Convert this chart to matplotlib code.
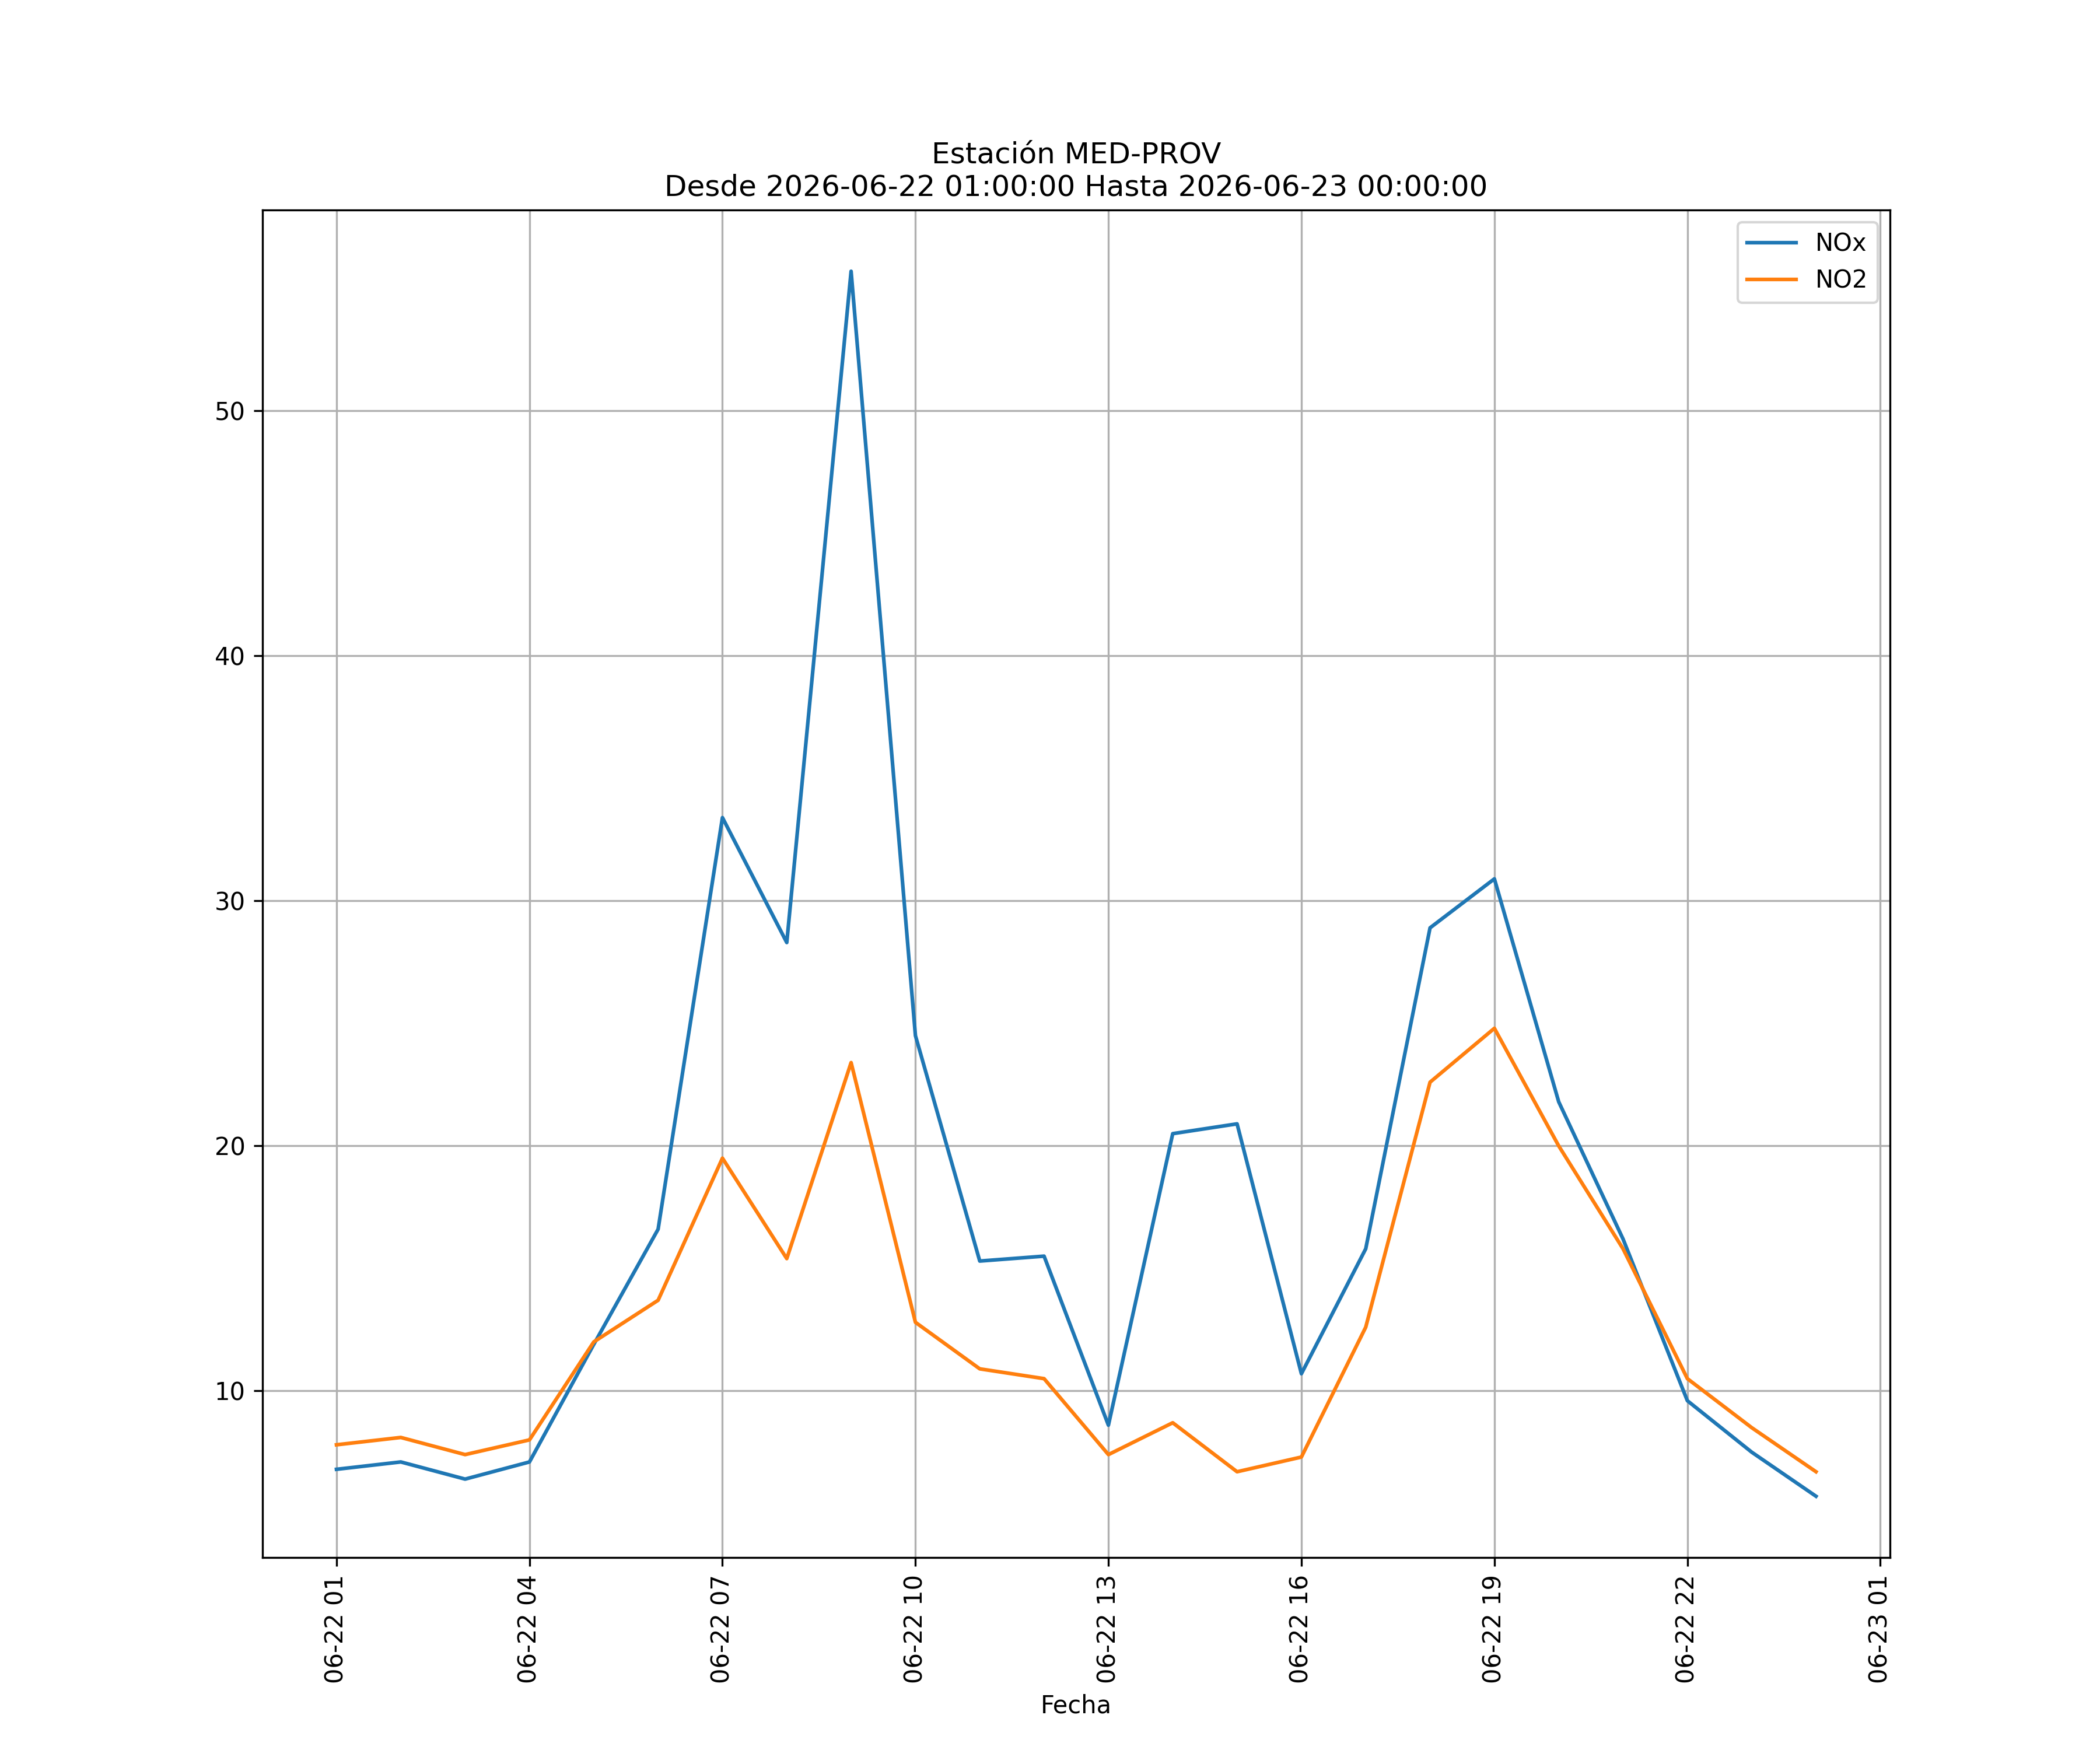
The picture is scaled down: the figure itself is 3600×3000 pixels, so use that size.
import pandas as pd
import matplotlib
matplotlib.use("Agg")
import matplotlib.pyplot as plt
import matplotlib.dates as mdates

fechas = pd.date_range("2026-06-22 01:00:00", "2026-06-23 00:00:00", freq="h")
nox = [6.8, 7.1, 6.4, 7.1, 11.9, 16.6, 33.4, 28.3, 55.7, 24.5, 15.3, 15.5,
       8.6, 20.5, 20.9, 10.7, 15.8, 28.9, 30.9, 21.8, 16.2, 9.6, 7.5, 5.7]
no2 = [7.8, 8.1, 7.4, 8.0, 12.0, 13.7, 19.5, 15.4, 23.4, 12.8, 10.9, 10.5,
       7.4, 8.7, 6.7, 7.3, 12.6, 22.6, 24.8, 20.0, 15.8, 10.5, 8.5, 6.7]

fig, ax = plt.subplots(figsize=(12, 10))
ax.plot(fechas, nox, label="NOx")
ax.plot(fechas, no2, label="NO2")
ax.xaxis.set_major_locator(mdates.HourLocator(interval=3))
ax.xaxis.set_major_formatter(mdates.DateFormatter("%m-%d %H"))
plt.xticks(rotation=90)
ax.set_xlabel("Fecha")
ax.set_title("Estación MED-PROV\nDesde 2026-06-22 01:00:00 Hasta 2026-06-23 00:00:00")
ax.grid(True)
ax.legend(loc="upper right")
fig.savefig("out.png", dpi=300)
